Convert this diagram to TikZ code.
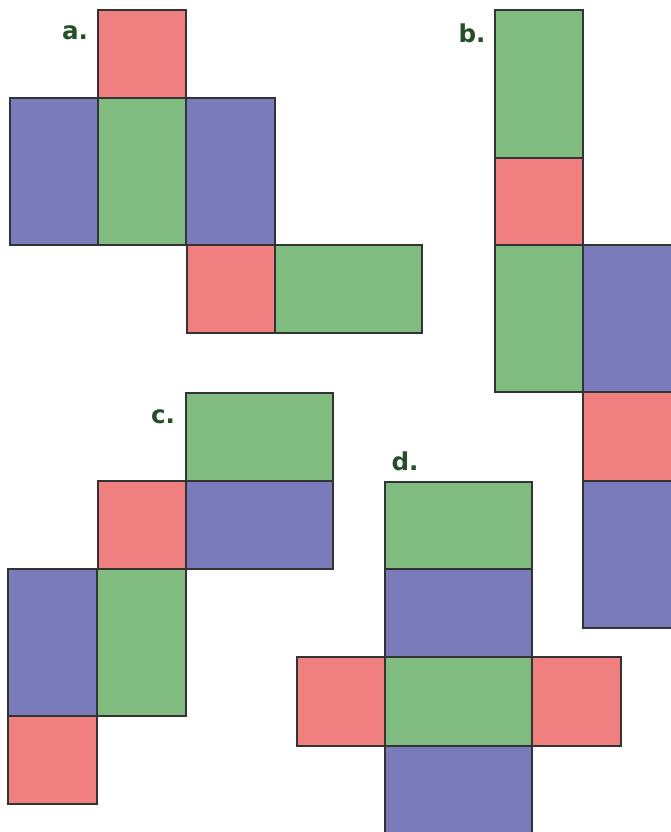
\documentclass[tikz,border=0pt]{standalone}
\usepackage{fontspec}
\setsansfont{DejaVu Sans}
\usepackage{tikz}
\usetikzlibrary{positioning}
\definecolor{FaceRed}{RGB}{240,128,128}
\definecolor{FaceGreen}{RGB}{128,188,128}
\definecolor{FaceBlue}{RGB}{122,123,187}
\definecolor{LabelGreen}{RGB}{38,78,40}

\begin{document}
\begin{tikzpicture}[x=0.03cm,y=-0.03cm,
    face/.style={draw=black!80,line width=0.9pt},
    rd/.style={face,fill=FaceRed},
    gn/.style={face,fill=FaceGreen},
    bl/.style={face,fill=FaceBlue},
    lbl/.style={font=\sffamily\bfseries\fontsize{21}{24}\selectfont,
                text=LabelGreen,inner sep=0pt}
  ]
  \useasboundingbox (0,0) rectangle (671,832);

  % net a
  \node[lbl] (labA) at (75,33) {a.};
  \draw[rd] (98,10) rectangle (186,98);
  \draw[bl] (10,98) rectangle (98,245);
  \draw[gn] (98,98) rectangle (186,245);
  \draw[bl] (186,98) rectangle (275,245);
  \draw[rd] (187,245) rectangle (275,333);
  \draw[gn] (275,245) rectangle (422,333);

  % net b
  \node[lbl] (labB) at (472,33) {b.};
  \draw[gn] (495,10) rectangle (583,158);
  \draw[rd] (495,158) rectangle (583,245);
  \draw[gn] (495,245) rectangle (583,392);
  \draw[bl] (583,245) rectangle (672,392);
  \draw[rd] (583,392) rectangle (672,481);
  \draw[bl] (583,481) rectangle (672,628);

  % net c
  \node[lbl] (labC) at (163,417) {c.};
  \draw[gn] (186,393) rectangle (333,481);
  \draw[rd] (98,481) rectangle (186,569);
  \draw[bl] (186,481) rectangle (333,569);
  \draw[bl] (8,569) rectangle (97,716);
  \draw[gn] (97,569) rectangle (186,716);
  \draw[rd] (8,716) rectangle (97,804);

  % net d
  \node[lbl] (labD) at (405,461) {d.};
  \draw[gn] (385,482) rectangle (532,569);
  \draw[bl] (385,569) rectangle (532,657);
  \draw[rd] (297,657) rectangle (385,746);
  \draw[gn] (385,657) rectangle (532,746);
  \draw[rd] (532,657) rectangle (621,746);
  \draw[bl] (385,746) rectangle (532,834);
\end{tikzpicture}
\end{document}
